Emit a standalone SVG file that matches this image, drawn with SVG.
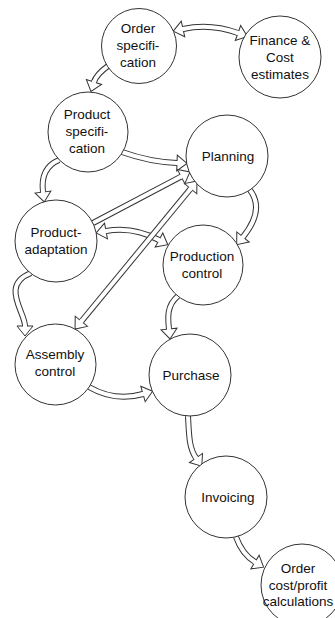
<svg xmlns="http://www.w3.org/2000/svg" width="335" height="618" viewBox="0 0 335 618">
<style>
.o{fill:none;stroke:#333;stroke-width:6;stroke-linecap:butt}
.i{fill:none;stroke:#fff;stroke-width:4;stroke-linecap:butt}
.c{fill:#fff;stroke:#333;stroke-width:1}
text{font-family:"Liberation Sans",Arial,sans-serif;font-size:13.5px;fill:#111;text-anchor:middle}
</style>
<defs>
<marker id="h" markerUnits="userSpaceOnUse" orient="auto-start-reverse" overflow="visible" markerWidth="20" markerHeight="20" refX="0" refY="0">
<path d="M0,-8 L10,0 L0,8 Z" fill="#fff" stroke="#333" stroke-width="1" stroke-linejoin="miter"/>
<rect x="-1.5" y="-2" width="2.5" height="4" fill="#fff"/>
</marker>
</defs>
<g id="connectors">
<path class="o" d="M183,29 Q210,23 238,33" marker-start="url(#h)" marker-end="url(#h)"/><path class="i" d="M183,29 Q210,23 238,33"/>
<path class="o" d="M108,66 Q96.4,74.4 94,82" marker-end="url(#h)"/><path class="i" d="M108,66 Q96.4,74.4 94,82"/>
<path class="o" d="M122,152 Q150,162 177,163" marker-end="url(#h)"/><path class="i" d="M122,152 Q150,162 177,163"/>
<path class="o" d="M59,160 Q40,168 43,192" marker-end="url(#h)"/><path class="i" d="M59,160 Q40,168 43,192"/>
<path class="o" d="M106,231 Q133,226 159,240" marker-start="url(#h)" marker-end="url(#h)"/><path class="i" d="M106,231 Q133,226 159,240"/>
<path class="o" d="M93,223 L181.1,176.6" marker-end="url(#h)"/><path class="i" d="M93,223 L181.1,176.6"/>
<path class="o" d="M190.6,188.7 L81.4,321.3" marker-start="url(#h)" marker-end="url(#h)"/><path class="i" d="M190.6,188.7 L81.4,321.3"/>
<path class="o" d="M250,190 Q265,210 243,237" marker-end="url(#h)"/><path class="i" d="M250,190 Q265,210 243,237"/>
<path class="o" d="M31,273 C0,285 25,312 25,326" marker-end="url(#h)"/><path class="i" d="M31,273 C0,285 25,312 25,326"/>
<path class="o" d="M178,296 C166,306 168,319 169,329" marker-end="url(#h)"/><path class="i" d="M178,296 C166,306 168,319 169,329"/>
<path class="o" d="M89,387 Q115,402 143,394" marker-end="url(#h)"/><path class="i" d="M89,387 Q115,402 143,394"/>
<path class="o" d="M188,416 C189,435 189,448 196,458" marker-end="url(#h)"/><path class="i" d="M188,416 C189,435 189,448 196,458"/>
<path class="o" d="M236,537 C240,548 245,556 255,562" marker-end="url(#h)"/><path class="i" d="M236,537 C240,548 245,556 255,562"/>
</g>
<g id="order-spec"><circle class="c" cx="139" cy="46" r="37.5"/><text x="138" y="33">Order</text><text x="138" y="50">specifi-</text><text x="138" y="67">cation</text></g>
<g id="finance"><circle class="c" cx="280" cy="57" r="41"/><text x="280" y="45">Finance &amp;</text><text x="280" y="62">Cost</text><text x="280" y="78.5">estimates</text></g>
<g id="product-spec"><circle class="c" cx="88" cy="132" r="40"/><text x="87" y="118.5">Product</text><text x="87" y="135.5">specifi-</text><text x="87" y="152.5">cation</text></g>
<g id="planning"><circle class="c" cx="227" cy="156" r="41"/><text x="228" y="160.5">Planning</text></g>
<g id="product-adaptation"><circle class="c" cx="56" cy="241" r="41"/><text x="56" y="236.5">Product-</text><text x="56" y="253.5">adaptation</text></g>
<g id="production-control"><circle class="c" cx="203" cy="265" r="40"/><text x="202" y="260.5">Production</text><text x="202" y="277.5">control</text></g>
<g id="assembly-control"><circle class="c" cx="55.5" cy="364.5" r="40.5"/><text x="55" y="358.5">Assembly</text><text x="55" y="375.5">control</text></g>
<g id="purchase"><circle class="c" cx="190" cy="375" r="41"/><text x="191" y="379.5">Purchase</text></g>
<g id="invoicing"><circle class="c" cx="226" cy="497" r="41"/><text x="228" y="502">Invoicing</text></g>
<g id="order-cost"><circle class="c" cx="302" cy="585" r="41"/><text x="298" y="572.5">Order</text><text x="298" y="589.5">cost/profit</text><text x="298" y="606">calculations</text></g>
</svg>
